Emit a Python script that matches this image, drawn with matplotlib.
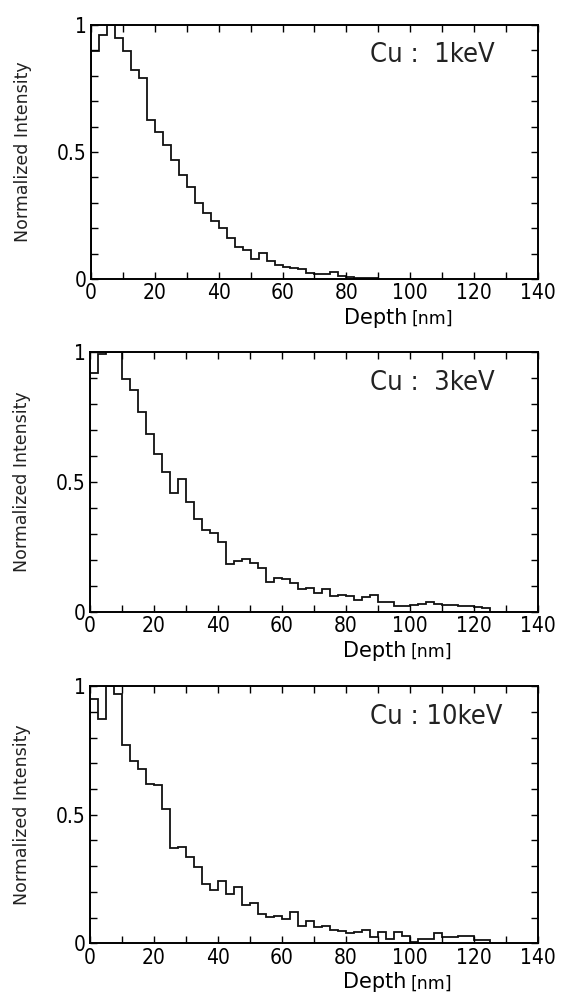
# depth profiles of Cu (1, 3, 10 keV)
import matplotlib
matplotlib.use('Agg')
import matplotlib.pyplot as plt
from matplotlib import font_manager
import numpy as np

# bin width 2.5 nm, starting at 0
bin_width = 2.5

cu_1kev = [0.899, 0.96, 1.0, 0.947, 0.898, 0.823, 0.791, 0.626, 0.58, 0.526,
           0.467, 0.409, 0.361, 0.298, 0.259, 0.227, 0.2, 0.16, 0.127, 0.114,
           0.077, 0.101, 0.072, 0.055, 0.049, 0.042, 0.04, 0.025, 0.019, 0.018,
           0.026, 0.012, 0.008, 0.006, 0.005, 0.004]

cu_3kev = [0.919, 0.99, 0.997, 1.0, 0.896, 0.851, 0.769, 0.682, 0.608, 0.535,
           0.455, 0.509, 0.422, 0.355, 0.314, 0.301, 0.268, 0.182, 0.195, 0.201,
           0.188, 0.169, 0.114, 0.131, 0.124, 0.112, 0.088, 0.092, 0.073, 0.088,
           0.06, 0.065, 0.06, 0.044, 0.058, 0.065, 0.037, 0.037, 0.022, 0.02,
           0.027, 0.029, 0.036, 0.03, 0.027, 0.025, 0.021, 0.02, 0.017, 0.015]

cu_10kev = [0.952, 0.874, 1.0, 0.971, 0.77, 0.709, 0.679, 0.618, 0.616, 0.523,
            0.37, 0.374, 0.335, 0.296, 0.231, 0.208, 0.242, 0.192, 0.218, 0.151,
            0.156, 0.114, 0.101, 0.106, 0.095, 0.121, 0.066, 0.086, 0.062, 0.066,
            0.053, 0.049, 0.04, 0.043, 0.052, 0.023, 0.045, 0.017, 0.043, 0.03,
            0.006, 0.017, 0.017, 0.039, 0.026, 0.026, 0.029, 0.029, 0.013, 0.013]

labels = ['Cu :  1keV', 'Cu :  3keV', 'Cu : 10keV']
series = [cu_1kev, cu_3kev, cu_10kev]

xticks = np.arange(0, 141, 20)
xtick_labels = ['0', '20', '40', '60', '80', '100', '120', '140']

narrow = font_manager.FontProperties(family='DejaVu Sans', stretch='condensed')

fig = plt.figure(figsize=(5.61, 9.93), dpi=100)

# axes boxes in figure fraction (left, bottom, width, height)
boxes = [[0.162, 0.719, 0.797, 0.256],
         [0.160, 0.384, 0.799, 0.262],
         [0.160, 0.050, 0.799, 0.259]]

for box, vals, lab in zip(boxes, series, labels):
    ax = fig.add_axes(box)
    edges = np.arange(len(vals) + 1) * bin_width
    ax.stairs(vals, edges, color='#111111', lw=1.3, baseline=0)
    ax.set_xlim(0, 140)
    ax.set_ylim(0, 1)
    ax.set_xticks(np.arange(0, 141, 10), minor=True)
    ax.set_xticks(xticks)
    ax.set_xticklabels(xtick_labels)
    ax.set_yticks(np.arange(0, 1.01, 0.1), minor=True)
    ax.set_yticks([0, 0.5, 1])
    ax.set_yticklabels(['0', '0.5', '1'])
    ax.tick_params(which='both', direction='in', top=True, right=True,
                   length=5, width=1, pad=3)
    for t in ax.get_xticklabels() + ax.get_yticklabels():
        t.set_fontproperties(narrow)
        t.set_fontsize(15)
    for s in ax.spines.values():
        s.set_linewidth(1.4)
    ax.text(0.625, 0.88, lab, transform=ax.transAxes, fontproperties=narrow,
            fontsize=19.5, ha='left', va='center', color='#222222')
    # depth label sits ~39 px under the axis, unit a bit smaller
    ax.annotate('Depth', xy=(0.707, 0), xycoords='axes fraction',
                xytext=(0, -39), textcoords='offset pixels',
                fontsize=15, ha='right', va='center')
    ax.annotate('[nm]', xy=(0.716, 0), xycoords='axes fraction',
                xytext=(0, -40), textcoords='offset pixels',
                fontsize=12.5, ha='left', va='center')
    ax.set_ylabel('Normalized Intensity', fontsize=12.5, labelpad=18,
                  color='#222222')

fig.savefig('out.png', dpi=100)
